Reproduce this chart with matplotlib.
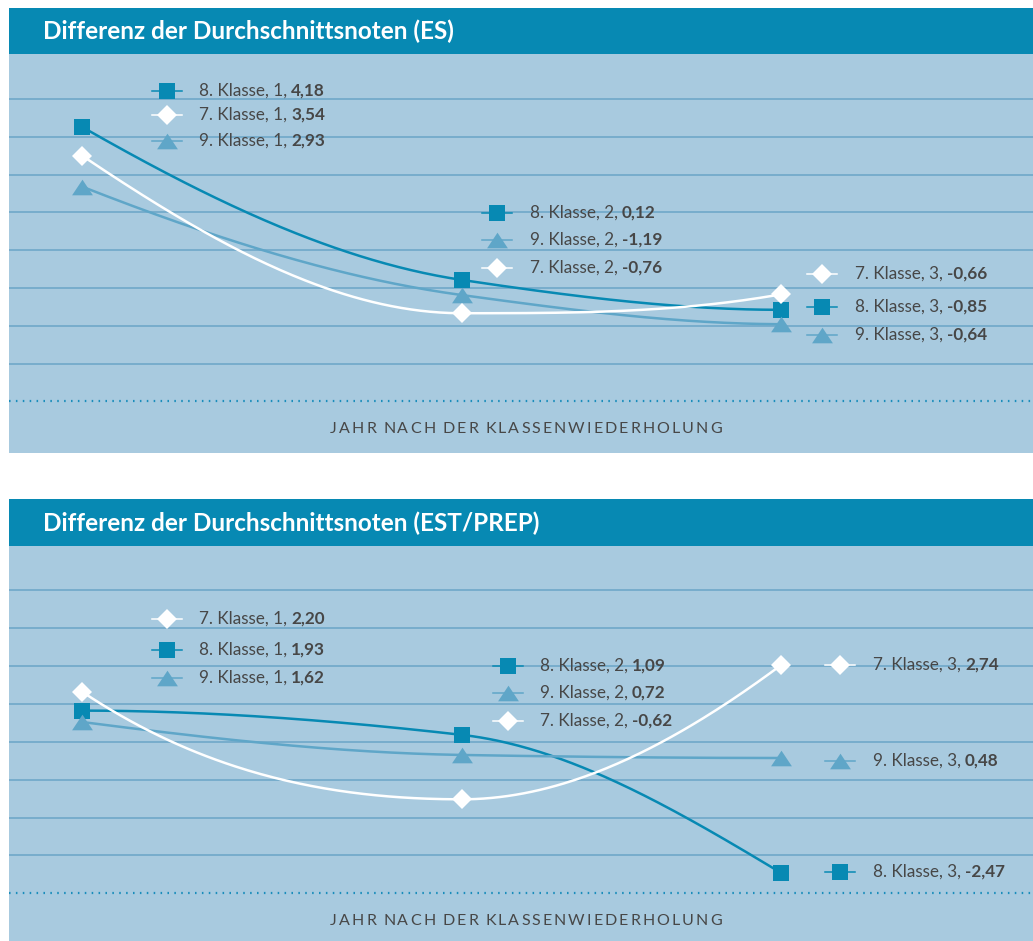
import numpy as np
import matplotlib
matplotlib.use("Agg")
import matplotlib.pyplot as plt
from matplotlib.patches import Rectangle
from matplotlib.path import Path

# ---------------- data ----------------
jahre = [1, 2, 3]
klassen = [8, 9, 7]

# labelled values (Differenz der Durchschnittsnoten)
es_werte_7 = [3.54, -0.76, -0.66]
es_werte_8 = [4.18, 0.12, -0.85]
es_werte_9 = [2.93, -1.19, -0.64]
est_werte_7 = [2.20, -0.62, 2.74]
est_werte_8 = [1.93, 1.09, -2.47]
est_werte_9 = [1.62, 0.72, 0.48]

# plotted heights as drawn in the original (grid-line units above the dotted base line)
es_hoehe_7 = [6.50, 2.33, 2.83]
es_hoehe_8 = [7.26, 3.21, 2.42]
es_hoehe_9 = [5.68, 2.81, 2.04]
est_hoehe_7 = [5.32, 2.48, 6.02]
est_hoehe_8 = [4.82, 4.18, 0.54]
est_hoehe_9 = [4.52, 3.65, 3.57]

titel = ["Differenz der Durchschnittsnoten (ES)",
         "Differenz der Durchschnittsnoten (EST/PREP)"]
x_titel = "JAHR NACH DER KLASSENWIEDERHOLUNG"

# ---------------- style / layout ----------------
W, H, DPI = 1033, 941, 100
C_BAND = "#0789b3"
C_BG = "#a8cadf"
C_GRID = "#73aacb"
C_DOT = "#1a8dbb"
C_TEXT = "#474747"
COL = {8: "#0789b3", 7: "white", 9: "#5fa6c8"}
TRI = Path([(-1, -0.75), (1, -0.75), (0, 0.75), (-1, -0.75)],
           [Path.MOVETO, Path.LINETO, Path.LINETO, Path.CLOSEPOLY])
MRK = {8: ("s", 11.5), 7: ("D", 10), 9: (TRI, 15)}
FONT = ["Lato", "DejaVu Sans"]

X_ANCH = [82, 462, 781]   # pixel positions of the three years


def fwd(x):
    x = np.asarray(x, float)
    return np.where(x < 2, X_ANCH[0] + (x - 1) * (X_ANCH[1] - X_ANCH[0]),
                    X_ANCH[1] + (x - 2) * (X_ANCH[2] - X_ANCH[1]))


def inv(u):
    u = np.asarray(u, float)
    return np.where(u < X_ANCH[1], 1 + (u - X_ANCH[0]) / (X_ANCH[1] - X_ANCH[0]),
                    2 + (u - X_ANCH[1]) / (X_ANCH[2] - X_ANCH[1]))


def pchip_curve(xs, ys, n=120):
    """Monotone piecewise cubic Hermite interpolation (Fritsch-Carlson)."""
    x = np.asarray(xs, float)
    y = np.asarray(ys, float)
    h = np.diff(x)
    d = np.diff(y) / h
    m = np.zeros_like(y)
    for k in range(1, len(x) - 1):
        if d[k - 1] * d[k] <= 0:
            m[k] = 0.0
        else:
            w1 = 2 * h[k] + h[k - 1]
            w2 = h[k] + 2 * h[k - 1]
            m[k] = (w1 + w2) / (w1 / d[k - 1] + w2 / d[k])

    def edge(h0, h1, d0, d1):
        mm = ((2 * h0 + h1) * d0 - h0 * d1) / (h0 + h1)
        if np.sign(mm) != np.sign(d0):
            mm = 0.0
        elif np.sign(d0) != np.sign(d1) and abs(mm) > abs(3 * d0):
            mm = 3 * d0
        return mm

    m[0] = edge(h[0], h[1], d[0], d[1])
    m[-1] = edge(h[-1], h[-2], d[-1], d[-2])
    X, Y = [], []
    for k in range(len(x) - 1):
        t = np.linspace(0, 1, n)
        h00 = 2 * t ** 3 - 3 * t ** 2 + 1
        h10 = t ** 3 - 2 * t ** 2 + t
        h01 = -2 * t ** 3 + 3 * t ** 2
        h11 = t ** 3 - t ** 2
        yy = h00 * y[k] + h10 * h[k] * m[k] + h01 * y[k + 1] + h11 * h[k] * m[k + 1]
        xx = x[k] + t * h[k]
        if k > 0:
            xx, yy = xx[1:], yy[1:]
        X.append(xx)
        Y.append(yy)
    return np.concatenate(X), np.concatenate(Y)


def fmt(v):
    return f"{v:.2f}".replace(".", ",")


panels = [
    dict(top=8, band_bot=54, bg_bot=453, base=401.3, unit=37.8,
         hoehe={7: es_hoehe_7, 8: es_hoehe_8, 9: es_hoehe_9},
         werte={7: es_werte_7, 8: es_werte_8, 9: es_werte_9},
         labels=[(0, 167, 199, [(8, 91), (7, 115), (9, 141)]),
                 (1, 497, 530, [(8, 213), (9, 240), (7, 268)]),
                 (2, 822, 855, [(7, 274), (8, 307), (9, 335)])]),
    dict(top=499, band_bot=545.7, bg_bot=941, base=893.3, unit=37.9,
         hoehe={7: est_hoehe_7, 8: est_hoehe_8, 9: est_hoehe_9},
         werte={7: est_werte_7, 8: est_werte_8, 9: est_werte_9},
         labels=[(0, 167, 199, [(7, 619), (8, 650), (9, 678)]),
                 (1, 508, 540, [(8, 666), (9, 693), (7, 721)]),
                 (2, 840, 873, [(7, 665), (9, 761), (8, 872)])]),
]

fig = plt.figure(figsize=(W / DPI, H / DPI), dpi=DPI)
fig.patch.set_facecolor("white")

ov = fig.add_axes([0, 0, 1, 1], zorder=10)
ov.set_xlim(0, W)
ov.set_ylim(H, 0)
ov.axis("off")
ov.patch.set_alpha(0)

renderer = fig.canvas.get_renderer()
LEFT = 9

for pi, p in enumerate(panels):
    ax = fig.add_axes([LEFT / W, 1 - p["bg_bot"] / H, (W - LEFT) / W,
                       (p["bg_bot"] - p["band_bot"]) / H])
    ax.set_facecolor(C_BG)
    ax.set_xscale("function", functions=(fwd, inv))
    ax.set_xlim(float(inv(LEFT)), float(inv(W)))
    ax.set_ylim((p["base"] - p["bg_bot"]) / p["unit"], (p["base"] - p["band_bot"]) / p["unit"])
    for s in ax.spines.values():
        s.set_visible(False)
    ax.set_xticks([])
    ax.set_yticks([])
    for g in range(1, 9):
        ax.axhline(g, color=C_GRID, lw=1.3, zorder=1)
    ax.axhline(0, color=C_DOT, lw=1.6, ls=(0, (0.7, 2.4)), zorder=1)

    for k in [8, 9, 7]:
        cu, cy_ = pchip_curve(fwd(jahre), p["hoehe"][k])
        ax.plot(inv(cu), cy_, color=COL[k], lw=1.8, zorder=3, solid_capstyle="round")
    for k in [8, 9, 7]:
        m, ms = MRK[k]
        ax.plot(jahre, p["hoehe"][k], ls="none", marker=m, ms=ms, color=COL[k],
                markeredgewidth=0, zorder=4)

    # title band
    ov.add_patch(Rectangle((LEFT, p["top"]), W - LEFT, p["band_bot"] - p["top"],
                           facecolor=C_BAND, edgecolor="none"))
    ov.text(43, (p["top"] + p["band_bot"]) / 2 + 8.5, titel[pi], color="white",
            fontsize=17.5, fontweight="bold", family=FONT, va="baseline", ha="left")

    # point labels
    for (ji, mx, tx, rows) in p["labels"]:
        for (k, my) in rows:
            m, ms = MRK[k]
            ov.plot([mx - 15, mx + 15], [my, my], color=COL[k], lw=1.1, zorder=5)
            ov.plot([mx], [my], ls="none", marker=m, ms=ms, color=COL[k], markeredgewidth=0, zorder=6)
            t1 = ov.text(tx, my + 4.5, f"{k}. Klasse, {jahre[ji]},", color=C_TEXT,
                         fontsize=12.3, family=FONT, va="baseline", ha="left")
            bb = t1.get_window_extent(renderer)
            ov.text(bb.x1 + 4, my + 4.5, fmt(p["werte"][k][ji]), color=C_TEXT,
                    fontsize=12.3, fontweight="bold", family=FONT, va="baseline", ha="left")

    # x-axis caption with letter spacing
    cy = p["base"] + 32
    words = x_titel.split(" ")
    kw = dict(color=C_TEXT, fontsize=11.5, family=FONT, va="baseline", ha="left")
    widths = []
    for w in words:
        ww = []
        for ch in w:
            tt = ov.text(0, 0, ch, **kw)
            ww.append(tt.get_window_extent(renderer).width)
            tt.remove()
        widths.append(ww)
    total_target = 392
    word_gap = 7
    nchars = sum(len(w) for w in words)
    ngaps = nchars - len(words)
    spacing = (total_target - sum(sum(w) for w in widths) - word_gap * (len(words) - 1)) / max(ngaps, 1)
    x = 526 - total_target / 2
    for wi, w in enumerate(words):
        for ci, ch in enumerate(w):
            ov.text(x, cy, ch, **kw)
            x += widths[wi][ci] + (spacing if ci < len(w) - 1 else 0)
        x += word_gap

fig.savefig("out.png", dpi=DPI, facecolor="white")
